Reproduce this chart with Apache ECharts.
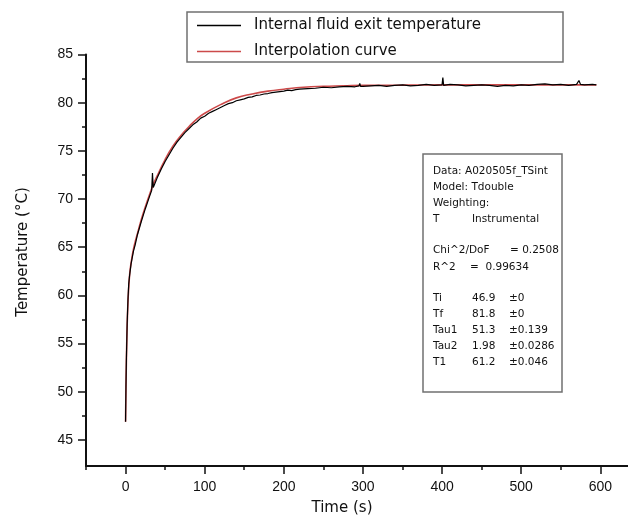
<!DOCTYPE html>
<html>
<head>
<meta charset="utf-8">
<script src="https://cdn.jsdelivr.net/npm/echarts@6/dist/echarts.min.js"></script>
<style>
  html, body { margin: 0; padding: 0; background: #fff; }
  #chart { width: 628px; height: 521px; }
</style>
</head>
<body>
<div id="chart"></div>
<script>
// measured signal (black)
var dataTime = [0, 0.5, 1, 2, 3, 4, 5, 7, 10, 12, 15, 20, 25, 30, 33, 34, 35, 40, 45, 50,
  55, 60, 65, 70, 75, 80, 85, 90, 95, 100, 105, 110, 115, 120, 125, 130, 135, 140, 145, 150,
  155, 160, 165, 170, 175, 180, 185, 190, 195, 200, 205, 210, 215, 220, 230, 240, 250, 260, 270, 280,
  290, 295, 296, 297, 300, 310, 320, 330, 340, 350, 360, 370, 380, 390, 400, 401, 402, 410, 420, 430,
  440, 450, 460, 470, 480, 490, 500, 510, 520, 530, 540, 550, 560, 570, 573, 575, 580, 590, 595]
var dataTemp = [46.9, 50.5, 53.2, 57.0, 59.5, 61.2, 62.0, 63.3, 64.6, 65.2, 66.3, 67.7, 69.0, 70.2, 70.9, 72.7, 71.2, 72.2, 73.1, 73.9,
  74.6, 75.3, 75.9, 76.4, 76.9, 77.3, 77.7, 78.0, 78.4, 78.6, 78.9, 79.1, 79.3, 79.5, 79.7, 79.9, 80.0, 80.2, 80.3, 80.4,
  80.55, 80.6, 80.75, 80.8, 80.9, 80.95, 81.05, 81.1, 81.15, 81.2, 81.3, 81.25, 81.35, 81.4, 81.45, 81.5, 81.6, 81.55, 81.65, 81.7,
  81.65, 81.75, 82.0, 81.7, 81.7, 81.75, 81.8, 81.7, 81.8, 81.85, 81.75, 81.8, 81.9, 81.8, 81.85, 82.6, 81.8, 81.9, 81.85, 81.75,
  81.8, 81.85, 81.8, 81.7, 81.8, 81.75, 81.85, 81.8, 81.9, 81.95, 81.85, 81.9, 81.8, 81.9, 82.3, 81.9, 81.85, 81.9, 81.85]

// fitted curve (red)
var fitTime = [0, 0.5, 1, 1.5, 2, 3, 4, 5, 6, 8, 10, 12, 15, 20, 25, 30, 35, 40, 50, 60,
  70, 80, 90, 100, 120, 140, 160, 180, 200, 225, 250, 275, 300, 350, 400, 450, 500, 550, 595]
var fitTemp = [46.9, 50.3, 53.0, 55.1, 56.8, 59.2, 60.8, 62.0, 62.8, 63.9, 64.8, 65.5, 66.4, 67.9, 69.2, 70.4, 71.5, 72.4, 74.1, 75.5,
  76.6, 77.5, 78.3, 78.9, 79.8, 80.5, 80.9, 81.2, 81.4, 81.6, 81.7, 81.75, 81.8, 81.82, 81.85, 81.85, 81.85, 81.85, 81.85]

var xMajor = [0, 100, 200, 300, 400, 500, 600]
var xMinor = [-50, 50, 150, 250, 350, 450, 550]
var yMajor = [45, 50, 55, 60, 65, 70, 75, 80, 85]
var yMinor = [47.5, 52.5, 57.5, 62.5, 67.5, 72.5, 77.5, 82.5]

var legendNames = ['Internal fluid exit temperature', 'Interpolation curve']

// fit report box
var reportHead = ['Data: A020505f_TSint', 'Model: Tdouble', 'Weighting:']
var paramNames = ['Ti', 'Tf', 'Tau1', 'Tau2', 'T1']
var paramValues = ['46.9', '81.8', '51.3', '1.98', '61.2']
var paramErrors = ['\u00b10', '\u00b10', '\u00b10.139', '\u00b10.0286', '\u00b10.046']

var font = 'Liberation Sans, Arial, sans-serif'
var wide = 'DejaVu Sans, sans-serif'

function pairs(xs, ys) {
  return xs.map(function (x, i) { return [x, ys[i]] })
}

var gfx = [
  { type: 'rect', shape: { x: 187, y: 12, width: 376, height: 50 },
    style: { fill: 'none', stroke: '#707070', lineWidth: 1.5 }, z: 10 },
  { type: 'rect', shape: { x: 423, y: 154, width: 139, height: 238 },
    style: { fill: '#fff', stroke: '#707070', lineWidth: 1.5 }, z: 10 },
  { type: 'text', x: 23, y: 252, rotation: Math.PI / 2,
    style: { text: 'Temperature (\u00b0C)', font: '15px ' + wide, fill: '#111', align: 'center', verticalAlign: 'middle' } },
  { type: 'text', x: 342, y: 508,
    style: { text: 'Time (s)', font: '15px ' + wide, fill: '#111', align: 'center', verticalAlign: 'middle' } }
]
function txt(s, x, y) {
  gfx.push({ type: 'text', x: x, y: y, z: 11,
    style: { text: s, font: '10.5px ' + wide, fill: '#111', verticalAlign: 'middle' } })
}
reportHead.forEach(function (s, i) { txt(s, 433, 171 + i * 16) })
txt('T', 433, 219)
txt('Instrumental', 472, 219)
txt('Chi^2/DoF', 433, 250)
txt('= 0.2508', 510, 250)
txt('R^2', 433, 267)
txt('=  0.99634', 470, 267)
paramNames.forEach(function (s, i) {
  var y = 298 + i * 16
  txt(s, 433, y)
  txt(paramValues[i], 472, y)
  txt(paramErrors[i], 509, y)
})

var axisCommon = {
  type: 'value',
  splitLine: { show: false },
  axisLine: { onZero: false, lineStyle: { color: '#111', width: 2 } },
  axisTick: { inside: false, lineStyle: { color: '#111', width: 1.5 } }
}

var option = {
  animation: false,
  backgroundColor: '#fff',
  grid: { left: 86, right: 0, top: 54.5, bottom: 55 },
  legend: {
    left: 187, top: 12, orient: 'vertical',
    padding: [6, 10, 6, 10],
    icon: 'rect',
    itemWidth: 44, itemHeight: 1.5, itemGap: 11,
    textStyle: { fontFamily: wide, fontSize: 15, lineHeight: 14, color: '#111', padding: [0, 0, 0, 8] },
    data: legendNames
  },
  graphic: gfx,
  xAxis: [
    Object.assign({}, axisCommon, {
      min: -50, max: 635, position: 'bottom',
      axisTick: { customValues: xMajor, length: 8, lineStyle: { color: '#111', width: 1.5 } },
      axisLabel: { customValues: xMajor, margin: 14, fontFamily: font, fontSize: 14, color: '#111' }
    }),
    Object.assign({}, axisCommon, {
      min: -50, max: 635, position: 'bottom',
      axisLine: { show: false, onZero: false },
      axisTick: { customValues: xMinor, length: 4, lineStyle: { color: '#111', width: 1.5 } },
      axisLabel: { show: false }
    })
  ],
  yAxis: [
    Object.assign({}, axisCommon, {
      min: 42.3, max: 85, position: 'left',
      axisTick: { customValues: yMajor, length: 8, lineStyle: { color: '#111', width: 1.5 } },
      axisLabel: { customValues: yMajor, margin: 13, fontFamily: font, fontSize: 14, color: '#111' }
    }),
    Object.assign({}, axisCommon, {
      min: 42.3, max: 85, position: 'left', offset: 0,
      axisLine: { show: false, onZero: false },
      axisTick: { customValues: yMinor, length: 4, lineStyle: { color: '#111', width: 1.5 } },
      axisLabel: { show: false }
    })
  ],
  series: [
    {
      name: legendNames[0], type: 'line', symbol: 'none', z: 3,
      data: pairs(dataTime, dataTemp),
      lineStyle: { color: '#000', width: 1.2 }, itemStyle: { color: '#000' }
    },
    {
      name: legendNames[1], type: 'line', symbol: 'none', smooth: true, z: 2,
      data: pairs(fitTime, fitTemp),
      lineStyle: { color: '#cc4a4a', width: 1.6 }, itemStyle: { color: '#cc4a4a' }
    }
  ]
}

var chart = echarts.init(document.getElementById('chart'))
chart.setOption(option)
</script>
</body>
</html>
